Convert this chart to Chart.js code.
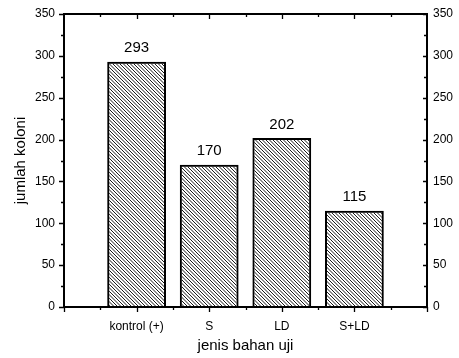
<!DOCTYPE html>
<html>
<head>
<meta charset="utf-8">
<script src="https://cdn.jsdelivr.net/npm/chart.js@4.4.1/dist/chart.umd.min.js"></script>
<style>
  html, body { margin: 0; padding: 0; background: #fff; }
  canvas { display: block; }
</style>
</head>
<body>
<canvas id="koloniChart" width="459" height="358"></canvas>
<script>
// Data
const categories = ['kontrol (+)', 'S', 'LD', 'S+LD'];
const jumlahKoloni = [293, 170, 202, 115];
const yTicks = [0, 50, 100, 150, 200, 250, 300, 350];

const FONT = "'Liberation Sans', Arial, sans-serif";

// empty slot on each side so the bars sit one step away from the frame
const labels = [''].concat(categories, ['']);
const values = [null].concat(jumlahKoloni, [null]);

const canvas = document.getElementById('koloniChart');
const ctx = canvas.getContext('2d');

// diagonal hatch fill (top-left to bottom-right)
function makeHatch() {
  const s = 7;
  const c = document.createElement('canvas');
  c.width = s; c.height = s;
  const g = c.getContext('2d');
  g.strokeStyle = '#000';
  g.lineWidth = 0.9;
  g.beginPath();
  [-7, -3.5, 0, 3.5, 7].forEach(function (o) {
    g.moveTo(o - 1, -1);
    g.lineTo(o + s + 1, s + 1);
  });
  g.stroke();
  return ctx.createPattern(c, 'repeat');
}

// frame, tick marks and value labels
const framePlugin = {
  id: 'frame',
  afterDraw(chart) {
    const { ctx, chartArea: a, scales } = chart;
    const x = scales.x, y = scales.y;
    ctx.save();
    ctx.strokeStyle = '#000';
    ctx.lineWidth = 2;
    ctx.strokeRect(a.left, a.top, a.right - a.left, a.bottom - a.top);

    ctx.lineWidth = 1.3;
    ctx.beginPath();
    // x ticks: major at each slot, minor halfway
    for (let i = 0; i <= labels.length - 1; i += 0.5) {
      const px = Math.round(x.getPixelForValue(i)) + 0.5;
      const major = Number.isInteger(i);
      const len = major ? 5 : 3;
      ctx.moveTo(px, a.bottom);
      ctx.lineTo(px, a.bottom + len);
      if (i > 0 && i < labels.length - 1) {
        ctx.moveTo(px, a.top);
        ctx.lineTo(px, a.top + len);
      }
    }
    // y ticks: major every 50, minor every 25
    const maxY = yTicks[yTicks.length - 1];
    for (let v = 0; v <= maxY; v += 25) {
      const py = Math.round(y.getPixelForValue(v)) + 0.5;
      const major = v % 50 === 0;
      ctx.moveTo(a.left, py);
      ctx.lineTo(a.left - (major ? 5 : 3), py);
      ctx.moveTo(a.right, py);
      ctx.lineTo(a.right - (major ? 4 : 3), py);
    }
    ctx.stroke();

    // values above the bars
    ctx.fillStyle = '#000';
    ctx.font = '15px ' + FONT;
    ctx.textAlign = 'center';
    ctx.textBaseline = 'bottom';
    const meta = chart.getDatasetMeta(0);
    meta.data.forEach(function (bar, i) {
      if (values[i] === null) return;
      ctx.fillText(String(values[i]), bar.x, bar.y - 6);
    });
    ctx.restore();
  }
};

new Chart(ctx, {
  type: 'bar',
  data: {
    labels: labels,
    datasets: [{
      data: values,
      backgroundColor: makeHatch(),
      borderColor: '#000',
      borderWidth: 2,
      borderSkipped: 'bottom',
      categoryPercentage: 1,
      barPercentage: 0.81,
    }],
  },
  options: {
    responsive: false,
    animation: false,
    devicePixelRatio: 1,
    layout: { padding: { top: 14, left: 0, right: 0, bottom: 0 } },
    plugins: {
      legend: { display: false },
      tooltip: { enabled: false },
    },
    scales: {
      x: {
        offset: false,
        grid: { display: false, drawTicks: false },
        border: { display: false },
        ticks: {
          color: '#000',
          padding: 12,
          maxRotation: 0,
          autoSkip: false,
          font: { family: FONT, size: 12 },
        },
        title: {
          display: true,
          text: 'jenis bahan uji',
          color: '#000',
          font: { family: FONT, size: 15 },
          padding: { top: 2, bottom: 3 },
        },
        afterFit(scale) { scale.height = 51; },
      },
      y: {
        position: 'left',
        min: 0,
        max: 350,
        afterBuildTicks(scale) { scale.ticks = yTicks.map(v => ({ value: v })); },
        grid: { display: false, drawTicks: false },
        border: { display: false },
        ticks: {
          color: '#000',
          padding: 9,
          font: { family: FONT, size: 12 },
        },
        title: {
          display: true,
          text: 'jumlah koloni',
          color: '#000',
          font: { family: FONT, size: 15 },
          padding: { top: 12, bottom: 0 },
        },
        afterFit(scale) {
          scale.width = 64;
          scale.paddingTop = 0;
          scale.paddingBottom = 0;
        },
      },
      y2: {
        position: 'right',
        min: 0,
        max: 350,
        afterBuildTicks(scale) { scale.ticks = yTicks.map(v => ({ value: v })); },
        grid: { display: false, drawTicks: false },
        border: { display: false },
        ticks: {
          color: '#000',
          padding: 6,
          font: { family: FONT, size: 12 },
        },
        afterFit(scale) {
          scale.width = 32;
          scale.paddingTop = 0;
          scale.paddingBottom = 0;
        },
      },
    },
  },
  plugins: [framePlugin],
});
</script>
</body>
</html>
